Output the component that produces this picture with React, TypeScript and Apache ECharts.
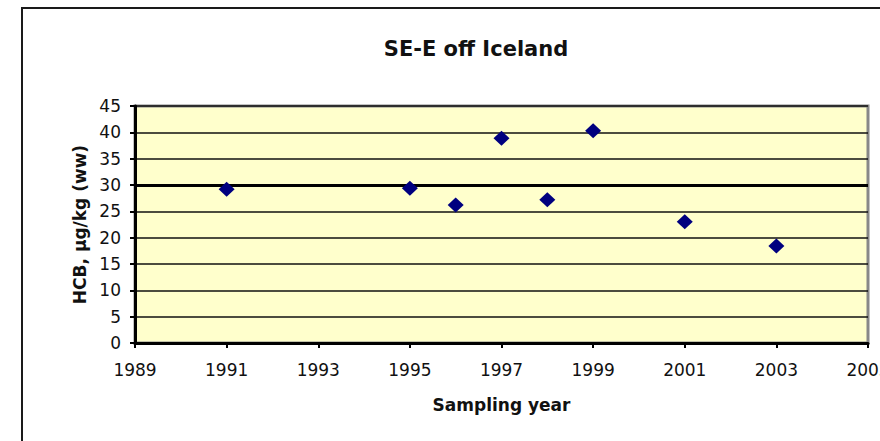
import React, { useEffect, useRef } from "react";
import * as echarts from "echarts";

const titleText = "SE-E off Iceland";
const xAxisName = "Sampling year";
const yAxisName = "HCB, µg/kg (ww)";
const years = [1991, 1995, 1996, 1997, 1998, 1999, 2001, 2003];
const hcbValues = [29.2, 29.4, 26.2, 38.9, 27.2, 40.3, 23.0, 18.4];
const xMin = 1989;
const xMax = 2005;
const xStep = 2;
const yMin = 0;
const yMax = 45;
const yStep = 5;
const highlightLevel = 30;

export default function App() {
  const ref = useRef<HTMLDivElement>(null);
  useEffect(() => {
    document.body.style.margin = "0";
    if (!ref.current) return;
    const chart = echarts.init(ref.current, null, { renderer: "svg" });
    const font = "DejaVu Sans";
    chart.setOption({
      animation: false,
      backgroundColor: "#ffffff",
      title: {
        text: titleText,
        left: 471,
        top: 33,
        textAlign: "center",
        textStyle: { fontFamily: font, fontWeight: "bold", fontSize: 21, color: "#111" },
      },
      graphic: [
        {
          type: "rect",
          shape: { x: 22, y: 8, width: 900, height: 500 },
          style: { fill: "none", stroke: "#1a1a1a", lineWidth: 2 },
          silent: true,
        },
      ],
      grid: {
        left: 135,
        right: 12,
        top: 106,
        bottom: 98,
        containLabel: false,
        outerBoundsMode: "none",
        show: true,
        backgroundColor: "#FFFFCC",
        borderColor: "#888888",
        borderWidth: 3,
      },
      xAxis: {
        type: "value",
        min: xMin,
        max: xMax,
        interval: xStep,
        name: xAxisName,
        nameLocation: "middle",
        nameGap: 53,
        nameTextStyle: { fontFamily: font, fontWeight: "bold", fontSize: 17, color: "#111" },
        axisLine: { show: true, lineStyle: { color: "#000", width: 3 } },
        axisTick: { show: true, length: 5, lineStyle: { color: "#000", width: 2 } },
        axisLabel: {
          margin: 18,
          fontFamily: font,
          fontSize: 17,
          color: "#111",
          formatter: (v: number) => String(v),
          showMaxLabel: true,
          hideOverlap: false,
        },
        splitLine: { show: false },
      },
      yAxis: {
        type: "value",
        min: yMin,
        max: yMax,
        interval: yStep,
        name: yAxisName,
        nameLocation: "middle",
        nameGap: 33,
        nameTextStyle: { fontFamily: font, fontWeight: "bold", fontSize: 17, color: "#111" },
        axisLine: { show: true, lineStyle: { color: "#000", width: 3 } },
        axisTick: { show: true, length: 5, lineStyle: { color: "#000", width: 2 } },
        axisLabel: { margin: 14, fontFamily: font, fontSize: 17, color: "#111" },
        splitLine: { show: true, lineStyle: { color: "#111", width: 1.5 } },
      },
      series: [
        {
          type: "scatter",
          data: years.map((y, i) => [y, hcbValues[i]]),
          symbol: "diamond",
          symbolSize: [16, 15],
          itemStyle: { color: "#00007F", opacity: 1 },
          markLine: {
            silent: true,
            symbol: "none",
            label: { show: false },
            lineStyle: { color: "#000", width: 3, type: "solid" },
            data: [{ yAxis: highlightLevel }],
          },
          z: 5,
        },
      ],
    });
    return () => chart.dispose();
  }, []);
  return <div ref={ref} style={{ width: 880, height: 441 }} />;
}
